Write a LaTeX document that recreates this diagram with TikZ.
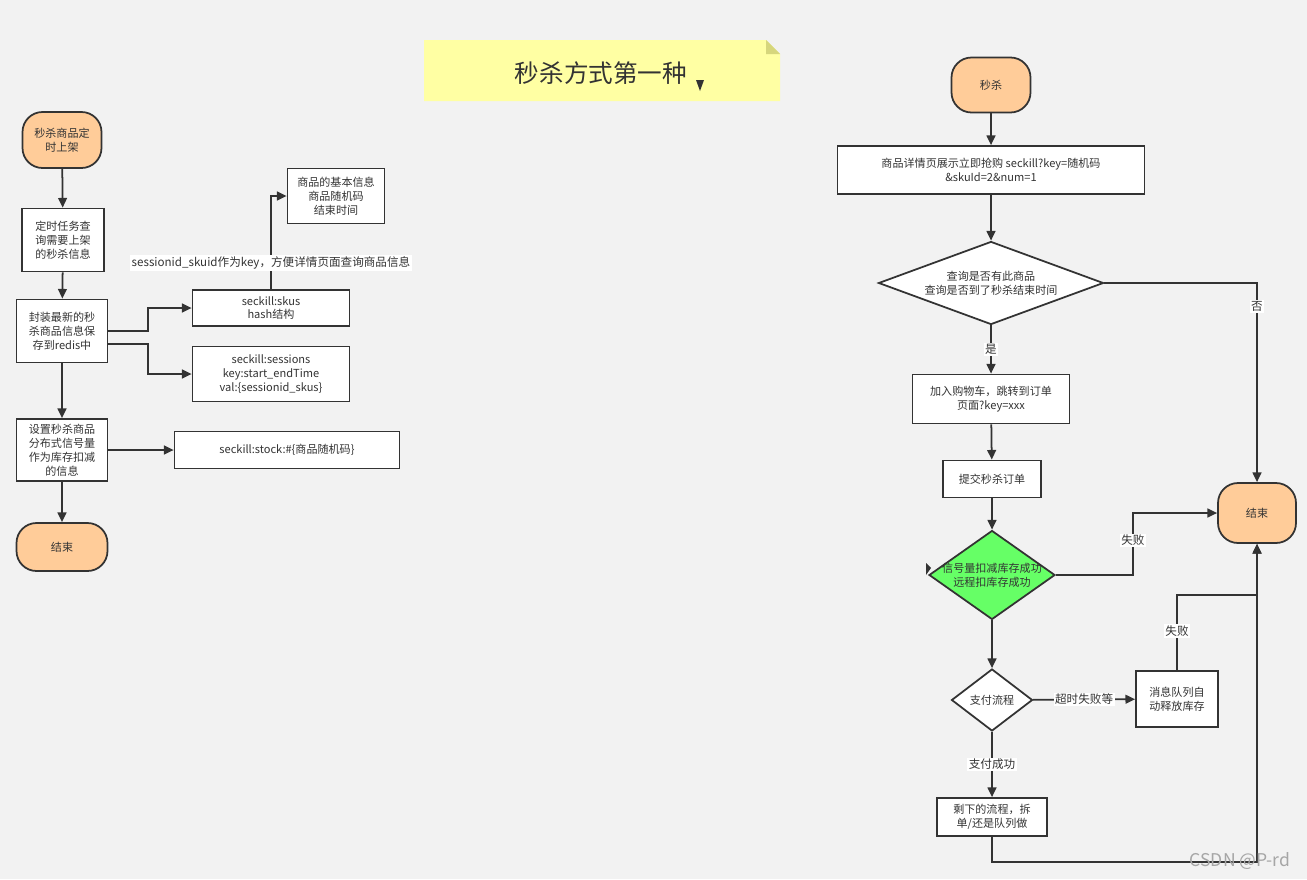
\documentclass[tikz,border=0pt]{standalone}
\usepackage{fontspec}
\setmainfont{Noto Sans CJK SC}
\usetikzlibrary{arrows.meta,shapes.geometric}
\definecolor{bgcol}{HTML}{F2F2F2}
\definecolor{linecol}{HTML}{333333}
\definecolor{termcol}{HTML}{FFCC99}
\definecolor{notecol}{HTML}{FFFFA3}
\definecolor{foldcol}{HTML}{D6D67C}
\definecolor{okcol}{HTML}{66FF66}
\tikzset{
  every node/.style={text=linecol, font=\fontsize{6.3}{7.9}\selectfont, align=center},
  box/.style={draw=linecol, fill=white, line width=1pt, inner sep=1pt},
  term/.style={draw=linecol, fill=termcol, line width=1pt, rounded corners=0.4cm, inner sep=1pt},
  decision/.style={diamond, draw=linecol, fill=white, line width=1pt, inner sep=-9pt},
  flow/.style={draw=linecol, line width=1pt, -{Triangle[length=5.5pt,width=5pt]}},
  tag/.style={fill=white, inner sep=0.8pt, font=\fontsize{6.6}{8}\selectfont},
}
\begin{document}
\begin{tikzpicture}[x=0.02cm, y=-0.02cm]
  \fill[bgcol] (0,0) rectangle (1307,879);
  \useasboundingbox (0,0) rectangle (1307,879);
  \fill[notecol] (424,40) -- (766,40) -- (780,54) -- (780,101) -- (424,101) -- cycle;
  \fill[foldcol] (766,40) -- (780,54) -- (766,54) -- cycle;
  \node (title) at (601,73) {\fontsize{14}{16}\selectfont 秒杀方式第一种};
  \fill[linecol] (696,80) -- (704,80) -- (700,91) -- cycle;
  \node[term, minimum width=1.58cm, minimum height=1.12cm] (start) at (62,140) {秒杀商品定\\时上架};
  \node[box, minimum width=1.64cm, minimum height=1.26cm] (query) at (63,240) {定时任务查\\询需要上架\\的秒杀信息};
  \node[box, minimum width=1.82cm, minimum height=1.26cm] (save) at (62,331) {封装最新的秒\\杀商品信息保\\存到redis中};
  \node[box, minimum width=1.82cm, minimum height=1.24cm] (sem) at (62,450) {设置秒杀商品\\分布式信号量\\作为库存扣减\\的信息};
  \node[term, minimum width=1.82cm, minimum height=0.96cm] (endL) at (62,547) {结束};
  \node[box, minimum width=3.14cm, minimum height=0.72cm] (skus) at (271,308) {seckill:skus\\hash结构};
  \node[box, minimum width=3.14cm, minimum height=1.1cm] (sessions) at (271,374) {seckill:sessions\\key:start\_endTime\\val:\{sessionid\_skus\}};
  \node[box, minimum width=4.5cm, minimum height=0.74cm] (stock) at (287,450) {seckill:stock:\#\{商品随机码\}};
  \node[box, minimum width=1.94cm, minimum height=1.1cm] (info) at (336,196) {商品的基本信息\\商品随机码\\结束时间};
  \draw[flow] (start) -- (query);
  \draw[flow] (query) -- (save);
  \draw[flow] (save) -- (sem);
  \draw[flow] (sem) -- (endL);
  \draw[flow] (save.east) -- ++(40,0) |- (skus.west);
  \draw[flow] ([yshift=-0.26cm]save.east) -- ++(40,0) |- (sessions.west);
  \draw[flow] (sem) -- (stock);
  \draw[flow] (skus.north) |- node[tag, pos=0.14] {sessionid\_skuid作为key，方便详情页面查询商品信息} (info.west);
  \node[term, minimum width=1.58cm, minimum height=1.1cm] (begin) at (991,85) {秒杀};
  \node[box, minimum width=6.14cm, minimum height=0.96cm] (detail) at (991,170) {商品详情页展示立即抢购 seckill?key=随机码\\\&skuId=2\&num=1};
  \node[decision, aspect=2.7, minimum width=4.5cm, minimum height=1.66cm] (check) at (991,283) {查询是否有此商品\\查询是否到了秒杀结束时间};
  \node[box, minimum width=3.14cm, minimum height=0.98cm] (cart) at (991,399) {加入购物车，跳转到订单\\页面?key=xxx};
  \node[box, minimum width=1.96cm, minimum height=0.74cm] (submit) at (992,479) {提交秒杀订单};
  \node[decision, aspect=1.42, fill=okcol, minimum width=2.52cm, minimum height=1.78cm] (deduct) at (992,575) {信号量扣减库存成功\\远程扣库存成功};
  \fill[linecol] (926,575) -- (926,563) -- (931,568) -- cycle;
  \node[decision, aspect=1.3, minimum width=1.62cm, minimum height=1.24cm] (pay) at (992,700) {支付流程};
  \node[box, minimum width=1.64cm, minimum height=1.12cm] (release) at (1177,699) {消息队列自\\动释放库存};
  \node[box, minimum width=2.2cm, minimum height=0.76cm] (rest) at (992,817) {剩下的流程，拆\\单/还是队列做};
  \node[term, minimum width=1.56cm, minimum height=1.2cm] (endR) at (1257,513) {结束};
  \coordinate (join) at (1257,595);
  \draw[flow] (begin) -- (detail);
  \draw[flow] (detail) -- (check);
  \draw[flow] (check) -- node[tag] {是} (cart);
  \draw[flow] (cart) -- (submit);
  \draw[flow] (submit) -- (deduct);
  \draw[flow] (deduct) -- (pay);
  \draw[flow] (check.east) -| node[tag, pos=0.56] {否} (endR.north);
  \draw[flow] (deduct.east) -- ++(77,0) |- node[tag, pos=0.28] {失败} (endR.west);
  \draw[flow] (pay) -- node[tag] {超时失败等} (release);
  \draw[flow] (release.north) |- node[tag, pos=0.26] {失败} (join) -- (endR.south);
  \draw[flow] (pay) -- node[tag] {支付成功} (rest);
  \draw[flow] (rest.south) -- ++(0,25) -| (endR.south);
  \node[text=gray!70, font=\fontsize{10}{12}\selectfont] (mark) at (1240,861) {CSDN @P-rd};
\end{tikzpicture}
\end{document}
